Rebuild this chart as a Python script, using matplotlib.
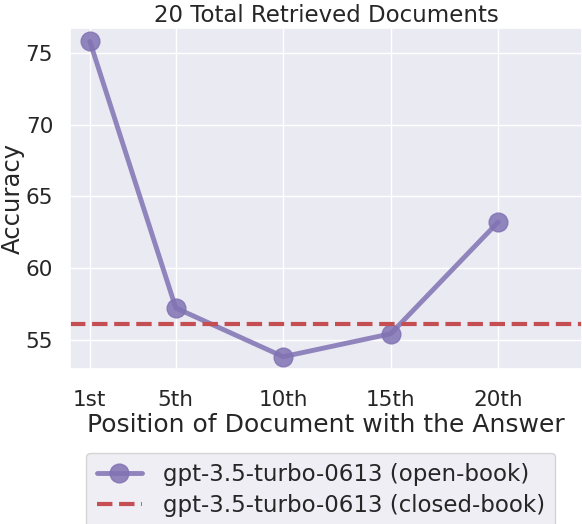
import matplotlib
matplotlib.use("Agg")
import matplotlib.pyplot as plt
import seaborn as sns

sns.set_theme(style="darkgrid")

positions = [1, 5, 10, 15, 20]
tick_labels = ["1st", "5th", "10th", "15th", "20th"]
open_book = [75.8, 57.2, 53.8, 55.4, 63.2]
closed_book = 56.1

fig = plt.figure(figsize=(5.82, 5.24), dpi=100)
ax = fig.add_axes([0.12, 0.296, 0.88, 0.651])

ax.plot(positions, open_book, color="#8172B3", alpha=0.85, lw=3.5,
        marker="o", markersize=13.5, label="gpt-3.5-turbo-0613 (open-book)")
ax.axhline(closed_book, color="#C44E52", ls="--", lw=3,
           label="gpt-3.5-turbo-0613 (closed-book)")

ax.set_xticks(positions)
ax.set_xticklabels(tick_labels)
ax.set_xlim(0.07, 23.9)
ax.set_ylim(52.95, 76.75)
ax.set_yticks([55, 60, 65, 70, 75])
ax.tick_params(axis="x", labelsize=15.5, length=0, pad=15)
ax.tick_params(axis="y", labelsize=15.5, length=0, pad=12)
ax.set_xlabel("Position of Document with the Answer", fontsize=18, labelpad=2)
ax.set_ylabel("Accuracy", fontsize=17.5)
ax.yaxis.set_label_coords(-0.088, 0.5)
ax.set_title("20 Total Retrieved Documents", fontsize=16.5, pad=4)

ax.legend(loc="upper center", bbox_to_anchor=(0.49, -0.246), fontsize=16.5,
          frameon=True, borderaxespad=0, borderpad=0.45, labelspacing=0.35,
          handletextpad=0.9)

fig.savefig("out.png", dpi=100)
